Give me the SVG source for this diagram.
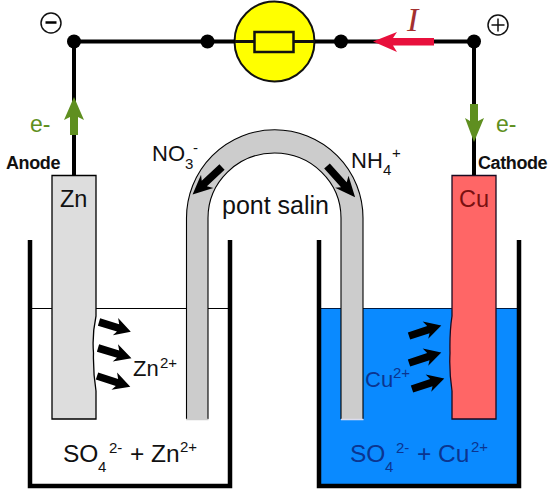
<svg xmlns="http://www.w3.org/2000/svg" width="550" height="491" viewBox="0 0 550 491">
<style>
text{font-family:"Liberation Sans",Arial,sans-serif;fill:#111}
.w{stroke:#000;stroke-width:4;fill:none}
.b{stroke:#000;stroke-width:4.5;fill:none}
.m{font-size:23.500px}
.i{font-size:22px}
.s{font-size:15px}
.l{font-size:24.500px}
.u{fill:#0b3590}
.g{fill:#5f8f20;font-size:23px}
.h{font-weight:bold;font-size:18px;letter-spacing:-.4px}
</style>
<defs>
<polygon id="ar" points="0,-4 21,-4 18,-10 35,0 18,9 21,4 0,4" fill="#000"/>
</defs>
<rect width="550" height="491" fill="#fff"/>
<g id="beaker-left">
<line x1="32" y1="308.500" x2="228" y2="308.500" stroke="#000" stroke-width="1.200"/>
<path class="b" d="M30 240V486H230V240"/>
</g>
<g id="beaker-right">
<rect x="320" y="308" width="198" height="177" fill="#0a8aff"/>
<line x1="320" y1="308.500" x2="518" y2="308.500" stroke="#001a40" stroke-width="1.200"/>
<path class="b" d="M319 240V486H519V240"/>
</g>
<g id="salt-bridge">
<path d="M186.500 419V218A88 88 0 0 1 363 218V419H341V218A66.500 65 0 0 0 208 218V419Z" fill="#ccc"/>
<path d="M186.500 419V218A88 88 0 0 1 363 218V419M341 419V218A66.500 65 0 0 0 208 218V419" fill="none" stroke="#000" stroke-width="1.100"/>
<line x1="186" y1="419.500" x2="208.500" y2="419.500" stroke="#ccc" stroke-width="1.500"/>
<line x1="341" y1="419.500" x2="363.500" y2="419.500" stroke="#dde" stroke-width="1.500"/>
<use href="#ar" transform="translate(222 167) rotate(137) scale(1.150 .95)"/>
<use href="#ar" transform="translate(327 166) rotate(48) scale(1.200 .95)"/>
</g>
<g id="electrode-zn">
<path d="M52 175.500H96V316Q92 335 93.500 353Q93 372 96 391V419H52Z" fill="#ddd" stroke="#000" stroke-width="1.300"/>
<text class="m" x="60" y="207">Zn</text>
</g>
<g id="electrode-cu">
<path d="M452 175.500H496V419H452V391Q449 370 450 353Q449.500 332 452 316Z" fill="#f66" stroke="#1a0a20" stroke-width="1.300"/>
<text class="m" x="459" y="207" style="fill:#7a1010">Cu</text>
</g>
<g id="resistor">
<circle cx="274.500" cy="41.500" r="40" fill="#ff0" stroke="#111" stroke-width="2"/>
<rect x="254.500" y="32" width="39" height="20" fill="#ff0" stroke="#111" stroke-width="2.500"/>
</g>
<g id="connectors">
<path class="w" d="M74 175V41.500H235M314 41.500H474V175"/>
<line x1="235" y1="41.500" x2="254" y2="41.500" stroke="#111" stroke-width="3"/>
<line x1="294" y1="41.500" x2="315" y2="41.500" stroke="#111" stroke-width="3"/>
<circle cx="74" cy="41.500" r="7" fill="#000"/>
<circle cx="207.500" cy="41.500" r="7" fill="#000"/>
<circle cx="341" cy="41.500" r="7" fill="#000"/>
<circle cx="474" cy="41.500" r="7" fill="#000"/>
<polygon points="74,97 84,120 78,117 78,135 70,135 70,117 64,120" fill="#5f8f20"/>
<polygon points="474,142 484,118 478,121 478,104 470,104 470,121 465,118" fill="#5f8f20"/>
<polygon points="373,41.500 397,32 393,38 434,38 434,45.500 393,45.500 397,52" fill="#e8103c"/>
</g>
<g id="zn-arrows">
<use href="#ar" transform="translate(99 322) rotate(17) scale(.95 .95)"/>
<use href="#ar" transform="translate(98 348) rotate(17) scale(1 .95)"/>
<use href="#ar" transform="translate(97 376) rotate(18) scale(1 .95)"/>
</g>
<g id="cu-arrows">
<use href="#ar" transform="translate(409 336) rotate(-18) scale(.97 .95)"/>
<use href="#ar" transform="translate(409 363) rotate(-18) scale(.97 .95)"/>
<use href="#ar" transform="translate(412 389) rotate(-18) scale(.97 .95)"/>
</g>
<g id="terminal-minus">
<circle cx="51" cy="23" r="10" fill="#fff" stroke="#111" stroke-width="1.500"/>
<line x1="45.500" y1="22.500" x2="56.500" y2="22.500" stroke="#000" stroke-width="2.500"/>
</g>
<g id="terminal-plus">
<circle cx="498" cy="25" r="10" fill="#fff" stroke="#111" stroke-width="1.500"/>
<path d="M491.500 25H504.500M498 18.500V31.500" stroke="#111" stroke-width="1.500"/>
</g>
<g id="labels">
<text x="407" y="31" style="font-family:'Liberation Serif',serif;font-style:italic;font-size:34px;fill:#a33030">I</text>
<text class="g" x="30" y="132">e-</text>
<text class="g" x="496" y="132">e-</text>
<text class="h" x="6" y="169">Anode</text>
<text class="h" x="478" y="169">Cathode</text>
<text class="i" x="152" y="161">NO</text><text class="s" x="185" y="169">3</text><text class="s" x="193" y="153">-</text>
<text class="i" x="351" y="168">NH</text><text class="s" x="383" y="175">4</text><text class="s" x="392" y="158">+</text>
<text style="font-size:25px" x="222" y="214">pont salin</text>
<text class="i" x="133" y="376">Zn</text><text class="s" x="160" y="368">2+</text>
<text class="l" x="63" y="462">SO</text><text class="s" x="98" y="472">4</text><text class="s" x="109" y="453">2-</text><text class="l" x="130" y="462">+ Zn</text><text class="s" x="180" y="452">2+</text>
<g>
<text class="i u" x="365" y="387">Cu</text><text class="s u" x="393" y="378">2+</text>
<text class="l u" x="350" y="462">SO</text><text class="s u" x="385" y="472">4</text><text class="s u" x="396" y="453">2-</text><text class="l u" x="417" y="462">+ Cu</text><text class="s u" x="471" y="452">2+</text>
</g>
</g>
</svg>
